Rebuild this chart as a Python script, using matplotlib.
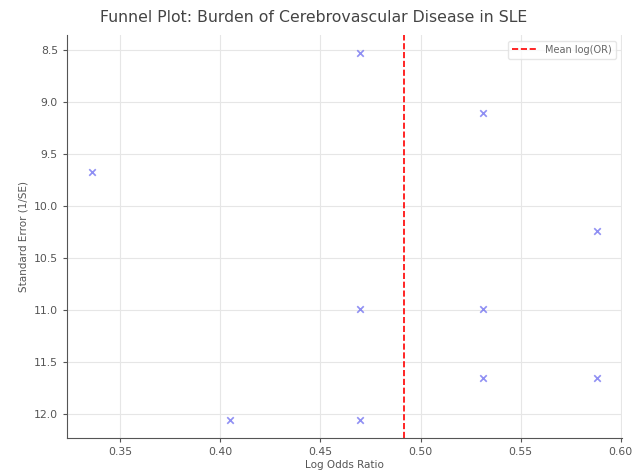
import numpy as np
import matplotlib
matplotlib.use('Agg')
import matplotlib.pyplot as plt

# log odds ratios and precision (1/SE)
log_or = [0.336, 0.470, 0.531, 0.588, 0.470, 0.531, 0.531, 0.588, 0.405, 0.470]
precision = [9.67, 8.53, 9.10, 10.24, 10.99, 10.99, 11.65, 11.65, 12.05, 12.05]

mean_log_or = np.mean(log_or)

fig = plt.figure(figsize=(6.32, 4.73), dpi=100)
ax = fig.add_axes([0.106, 0.074, 0.878, 0.852])

ax.scatter(log_or, precision, marker='x', color='#6a6af0', alpha=0.75, s=22, linewidths=1.2, zorder=3)
ax.axvline(mean_log_or, color='red', linestyle='--', linewidth=1.2, label='Mean log(OR)')
ax.invert_yaxis()

fig.text(0.497, 0.962, 'Funnel Plot: Burden of Cerebrovascular Disease in SLE',
         fontsize=11.3, color='#444444', ha='center', va='center')
ax.set_xlabel('Log Odds Ratio', fontsize=7.5, color='#555555', labelpad=2)
ax.set_ylabel('Standard Error (1/SE)', fontsize=7.5, color='#555555', labelpad=4)
ax.tick_params(labelsize=7.8, colors='#555555', length=3)
ax.grid(True, color='#e6e6e6', linewidth=0.8)
ax.set_axisbelow(True)
for side in ['top', 'right']:
    ax.spines[side].set_visible(False)
for side in ['left', 'bottom']:
    ax.spines[side].set_color('#555555')

leg = ax.legend(loc='upper right', fontsize=7, frameon=True, handlelength=2.6,
                borderaxespad=0.6)
leg.get_frame().set_edgecolor('#e0e0e0')
for t in leg.get_texts():
    t.set_color('#666666')

fig.savefig('out.png', dpi=100)
